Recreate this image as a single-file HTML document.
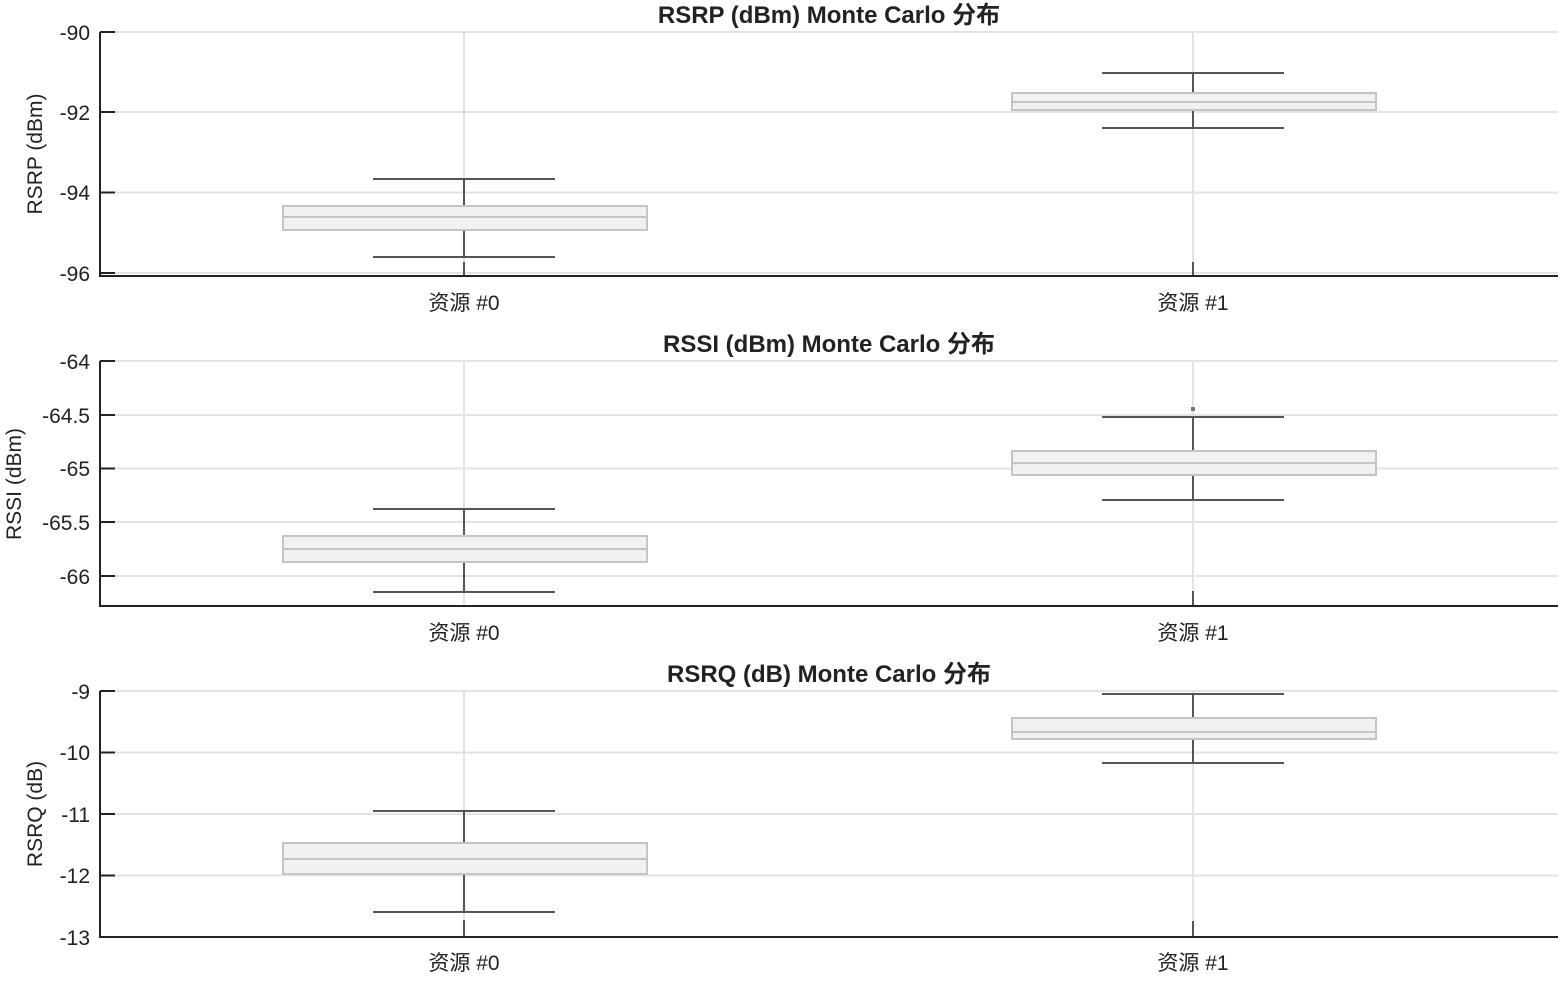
<!DOCTYPE html>
<html><head><meta charset="utf-8"><style>
html,body{margin:0;padding:0;background:#fff;}
text{font-family:"Liberation Sans","Noto Sans CJK SC",sans-serif;fill:#222;}
.t{font-size:21px;}
.ti{font-size:24px;font-weight:bold;}
.g{stroke:#e3e3e3;stroke-width:2;}
.ax{stroke:#222;stroke-width:2;fill:none;}
.box{fill:#f1f1f1;stroke:#c4c4c4;stroke-width:2;}
.med{stroke:#c4c4c4;stroke-width:2;}
.w{stroke:#555;stroke-width:2;}
</style></head><body>
<svg width="1561" height="976" xmlns="http://www.w3.org/2000/svg">
<!-- Panel 1 -->
<g>
<line class="g" x1="100" y1="32" x2="1558" y2="32"/>
<line class="g" x1="100" y1="112" x2="1558" y2="112"/>
<line class="g" x1="100" y1="192.5" x2="1558" y2="192.5"/>
<line class="g" x1="100" y1="273" x2="1558" y2="273"/>
<line class="g" x1="464" y1="32" x2="464" y2="276"/>
<line class="g" x1="1193" y1="32" x2="1193" y2="276"/>
<line class="w" x1="464" y1="179" x2="464" y2="206"/><line class="w" x1="464" y1="230" x2="464" y2="257"/>
<line class="w" x1="373" y1="179" x2="555" y2="179"/><line class="w" x1="373" y1="257" x2="555" y2="257"/>
<line class="w" x1="464" y1="262" x2="464" y2="276"/>
<rect class="box" x="283" y="206" width="364" height="24"/><line class="med" x1="283" y1="217" x2="647" y2="217"/>
<line class="w" x1="1193" y1="73" x2="1193" y2="93"/><line class="w" x1="1193" y1="110" x2="1193" y2="128"/>
<line class="w" x1="1102" y1="73" x2="1284" y2="73"/><line class="w" x1="1102" y1="128" x2="1284" y2="128"/>
<line class="w" x1="1193" y1="262" x2="1193" y2="276"/>
<rect class="box" x="1012" y="93" width="364" height="17"/><line class="med" x1="1012" y1="102" x2="1376" y2="102"/>
<path class="ax" d="M100 32 V276 H1558"/>
<path class="ax" d="M100 32H115M100 112H115M100 192.5H115M100 273H115"/>
<text class="t" x="90" y="40" text-anchor="end">-90</text>
<text class="t" x="90" y="120" text-anchor="end">-92</text>
<text class="t" x="90" y="200" text-anchor="end">-94</text>
<text class="t" x="90" y="281" text-anchor="end">-96</text>
<text class="t" x="464" y="310" text-anchor="middle">资源 #0</text>
<text class="t" x="1193" y="310" text-anchor="middle">资源 #1</text>
<text class="ti" x="829" y="23" text-anchor="middle">RSRP (dBm) Monte Carlo 分布</text>
<text class="t" transform="translate(42,154) rotate(-90)" text-anchor="middle">RSRP (dBm)</text>
</g>
<!-- Panel 2 -->
<g>
<line class="g" x1="100" y1="361" x2="1558" y2="361"/>
<line class="g" x1="100" y1="415" x2="1558" y2="415"/>
<line class="g" x1="100" y1="468.5" x2="1558" y2="468.5"/>
<line class="g" x1="100" y1="522" x2="1558" y2="522"/>
<line class="g" x1="100" y1="576" x2="1558" y2="576"/>
<line class="g" x1="464" y1="361" x2="464" y2="606"/>
<line class="g" x1="1193" y1="361" x2="1193" y2="606"/>
<line class="w" x1="464" y1="509" x2="464" y2="536"/><line class="w" x1="464" y1="562" x2="464" y2="592"/>
<line class="w" x1="373" y1="509" x2="555" y2="509"/><line class="w" x1="373" y1="592" x2="555" y2="592"/>
<rect class="box" x="283" y="536" width="364" height="26"/><line class="med" x1="283" y1="549" x2="647" y2="549"/>
<line class="w" x1="1193" y1="417" x2="1193" y2="451"/><line class="w" x1="1193" y1="475" x2="1193" y2="500"/>
<line class="w" x1="1102" y1="417" x2="1284" y2="417"/><line class="w" x1="1102" y1="500" x2="1284" y2="500"/>
<rect x="1191" y="407" width="4" height="4" fill="#777"/>
<line class="w" x1="1193" y1="591" x2="1193" y2="606"/>
<rect class="box" x="1012" y="451" width="364" height="24"/><line class="med" x1="1012" y1="463" x2="1376" y2="463"/>
<path class="ax" d="M100 361 V606 H1558"/>
<path class="ax" d="M100 361H115M100 415H115M100 468.5H115M100 522H115M100 576H115"/>
<text class="t" x="90" y="369" text-anchor="end">-64</text>
<text class="t" x="90" y="423" text-anchor="end">-64.5</text>
<text class="t" x="90" y="476" text-anchor="end">-65</text>
<text class="t" x="90" y="530" text-anchor="end">-65.5</text>
<text class="t" x="90" y="584" text-anchor="end">-66</text>
<text class="t" x="464" y="640" text-anchor="middle">资源 #0</text>
<text class="t" x="1193" y="640" text-anchor="middle">资源 #1</text>
<text class="ti" x="829" y="352" text-anchor="middle">RSSI (dBm) Monte Carlo 分布</text>
<text class="t" transform="translate(21,484) rotate(-90)" text-anchor="middle">RSSI (dBm)</text>
</g>
<!-- Panel 3 -->
<g>
<line class="g" x1="100" y1="691" x2="1558" y2="691"/>
<line class="g" x1="100" y1="752.5" x2="1558" y2="752.5"/>
<line class="g" x1="100" y1="814" x2="1558" y2="814"/>
<line class="g" x1="100" y1="875.5" x2="1558" y2="875.5"/>
<line class="g" x1="464" y1="691" x2="464" y2="937"/>
<line class="g" x1="1193" y1="691" x2="1193" y2="937"/>
<line class="w" x1="464" y1="811" x2="464" y2="843"/><line class="w" x1="464" y1="874" x2="464" y2="912"/>
<line class="w" x1="373" y1="811" x2="555" y2="811"/><line class="w" x1="373" y1="912" x2="555" y2="912"/>
<line class="w" x1="464" y1="920" x2="464" y2="937"/>
<rect class="box" x="283" y="843" width="364" height="31"/><line class="med" x1="283" y1="859" x2="647" y2="859"/>
<line class="w" x1="1193" y1="694" x2="1193" y2="718"/><line class="w" x1="1193" y1="739" x2="1193" y2="763"/>
<line class="w" x1="1102" y1="694" x2="1284" y2="694"/><line class="w" x1="1102" y1="763" x2="1284" y2="763"/>
<line class="w" x1="1193" y1="921" x2="1193" y2="937"/>
<rect class="box" x="1012" y="718" width="364" height="21"/><line class="med" x1="1012" y1="732" x2="1376" y2="732"/>
<path class="ax" d="M100 691 V937 H1558"/>
<path class="ax" d="M100 691H115M100 752.5H115M100 814H115M100 875.5H115M100 937H115"/>
<text class="t" x="90" y="699" text-anchor="end">-9</text>
<text class="t" x="90" y="760" text-anchor="end">-10</text>
<text class="t" x="90" y="822" text-anchor="end">-11</text>
<text class="t" x="90" y="883" text-anchor="end">-12</text>
<text class="t" x="90" y="945" text-anchor="end">-13</text>
<text class="t" x="464" y="970" text-anchor="middle">资源 #0</text>
<text class="t" x="1193" y="970" text-anchor="middle">资源 #1</text>
<text class="ti" x="829" y="682" text-anchor="middle">RSRQ (dB) Monte Carlo 分布</text>
<text class="t" transform="translate(42,814) rotate(-90)" text-anchor="middle">RSRQ (dB)</text>
</g>
</svg>
</body></html>
